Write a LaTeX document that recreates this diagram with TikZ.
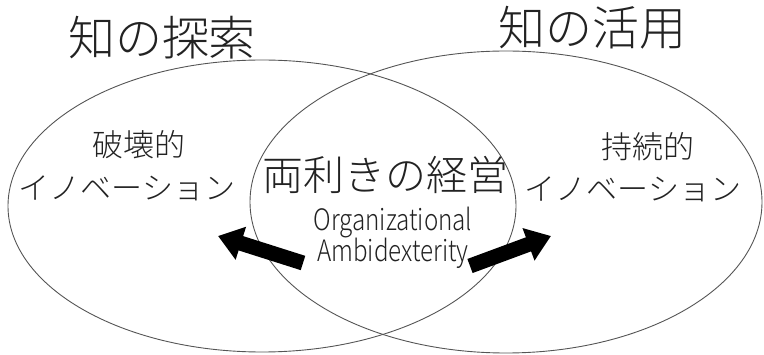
\documentclass[tikz,border=0pt]{standalone}
\usepackage{fontspec}
\usetikzlibrary{shapes.geometric,arrows.meta}
\IfFontExistsTF{Noto Sans CJK JP Light}{%
  \newfontfamily\jp{Noto Sans CJK JP Light}%
  \newfontfamily\jpnarrow[FakeStretch=0.82]{Noto Sans CJK JP Light}%
}{%
  \newfontfamily\jp{Noto Sans CJK JP}%
  \newfontfamily\jpnarrow[FakeStretch=0.82]{Noto Sans CJK JP}%
}
\definecolor{ink}{HTML}{222222}
\definecolor{edge}{HTML}{555555}
\tikzset{
  venn/.style={draw=edge, line width=0.9pt, ellipse, inner sep=0pt},
  title/.style={font=\jp\fontsize{47}{47}\selectfont, text=ink, inner sep=0pt},
  big/.style={font=\jp\fontsize{41}{41}\selectfont, text=ink, inner sep=0pt},
  mid/.style={font=\jp\fontsize{31}{31}\selectfont, text=ink, inner sep=0pt},
  eng/.style={font=\jpnarrow\fontsize{29.5}{31}\selectfont, text=ink, inner sep=0pt, align=center},
  blockarrow/.style={line width=15pt, draw=black, -{Triangle[length=24pt,width=33pt]}}
}
\begin{document}
\begin{tikzpicture}[x=1pt,y=-1pt]
\useasboundingbox (0,0) rectangle (764,355);
\node[venn, minimum width=508pt, minimum height=292pt] (Lell) at (262,206) {};
\node[venn, minimum width=512pt, minimum height=302pt] (Rell) at (506,202) {};
\node[title] (t1) at (162,38) {知の探索};
\node[title] (t2) at (592,28) {知の活用};
\node[mid] (l1) at (139,145) {破壊的};
\node[mid] (l2) at (127,188) {イノベーション};
\node[mid] (r1) at (648,147) {持続的};
\node[mid] (r2) at (633,189) {イノベーション};
\node[big] (c1) at (385,175) {両利きの経営};
\node[eng] (c2) at (393,238) {Organizational\\Ambidexterity};
\coordinate (la0) at (303,263);
\coordinate (la1) at (218,236);
\coordinate (ra0) at (470,266);
\coordinate (ra1) at (551,236);
\draw[blockarrow] (la0) -- (la1);
\draw[blockarrow] (ra0) -- (ra1);
\end{tikzpicture}
\end{document}
